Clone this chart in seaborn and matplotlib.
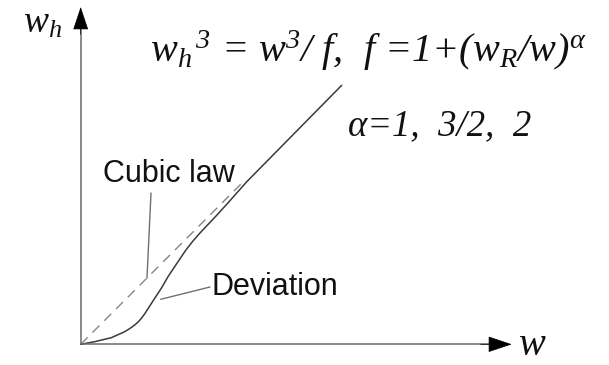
import numpy as np
import pandas as pd
import matplotlib
matplotlib.use("Agg")
import matplotlib.pyplot as plt
import seaborn as sb

# units: w and w_h, origin at the axes corner
w_cubic = [0.0, 1.6]
wh_cubic = [0.0, 1.6]

w_dev = [0.0, 0.14, 0.306, 0.44, 0.49, 0.54, 0.575, 0.606, 0.64, 0.673, 0.74,
         0.806, 0.873, 0.973, 1.05, 1.12, 1.19, 1.27, 1.36, 1.46, 1.66, 2.61]
wh_dev = [0.0, 0.026, 0.066, 0.126, 0.157, 0.193, 0.224, 0.258, 0.305, 0.356,
          0.46, 0.56, 0.676, 0.826, 0.94, 1.03, 1.11, 1.195, 1.29, 1.40,
          1.625, 2.59]

formula = r"w$_h$$^{\,3}$ = w$^3$/ f,  f =1+(w$_R$/w)$^{\alpha}$"
alpha_text = "α=1,  3/2,  2"

sb.set_style("white")
plt.rcParams["font.family"] = ["Liberation Sans", "DejaVu Sans"]
plt.rcParams["mathtext.fontset"] = "custom"
plt.rcParams["mathtext.rm"] = "Liberation Serif:italic"
plt.rcParams["mathtext.it"] = "Liberation Serif:italic"
plt.rcParams["mathtext.bf"] = "Liberation Serif:bold"

fig = plt.figure(figsize=(6.09, 3.65), dpi=100)
ax = fig.add_axes([0, 0, 1, 1])
ax.set_xlim(-0.807, 5.283)
ax.set_ylim(-0.207, 3.443)
ax.axis("off")

df_cubic = pd.DataFrame({"w": w_cubic, "wh": wh_cubic})
df_dev = pd.DataFrame({"w": w_dev, "wh": wh_dev})

sb.lineplot(data=df_cubic, x="w", y="wh", ax=ax, color="#858585", lw=1.0,
            sort=False, estimator=None)
ax.lines[-1].set_dashes((7, 5))
sb.lineplot(data=df_dev, x="w", y="wh", ax=ax, color="#3a3a3a", lw=1.1,
            sort=False, estimator=None)
ax.lines[-1].set_solid_joinstyle("round")

# axes with arrows
axis_col = "#6a6a6a"
ax.plot([0, 0], [0, 3.2], color=axis_col, lw=1.1, solid_capstyle="butt")
ax.plot([0, 4.12], [0, 0], color=axis_col, lw=1.1, solid_capstyle="butt")
ax.annotate("", xy=(0, 3.373), xytext=(0, 3.1),
            arrowprops=dict(arrowstyle="-|>,head_length=1.5,head_width=0.5",
                            color="black", lw=0.5, shrinkA=0, shrinkB=0))
ax.annotate("", xy=(4.31, 0), xytext=(4.0, 0),
            arrowprops=dict(arrowstyle="-|>,head_length=1.55,head_width=0.52",
                            color="black", lw=0.5, shrinkA=0, shrinkB=0))

serif = dict(family="Liberation Serif", style="italic", color="#111111")

# labels
ax.text(-0.577, 3.113, r"w$_h$", fontsize=27, ha="left", va="baseline", **serif)
ax.text(4.373, -0.11, "w", fontsize=29, ha="left", va="baseline", **serif)
ax.text(0.693, 2.823, formula, fontsize=29, ha="left", va="baseline", **serif)
ax.text(2.673, 2.093, alpha_text, fontsize=26.5, ha="left", va="baseline", **serif)

ax.text(0.223, 1.623, "Cubic law", fontsize=22, ha="left", va="baseline",
        color="#111111")
ax.plot([0.703, 0.663], [1.513, 0.663], color="#707070", lw=1.0)
ax.text(1.313, 0.493, "Deviation", fontsize=22, ha="left", va="baseline",
        color="#111111")
ax.plot([1.293, 0.80], [0.573, 0.45], color="#707070", lw=1.0)

plt.savefig("out.png", dpi=100)
